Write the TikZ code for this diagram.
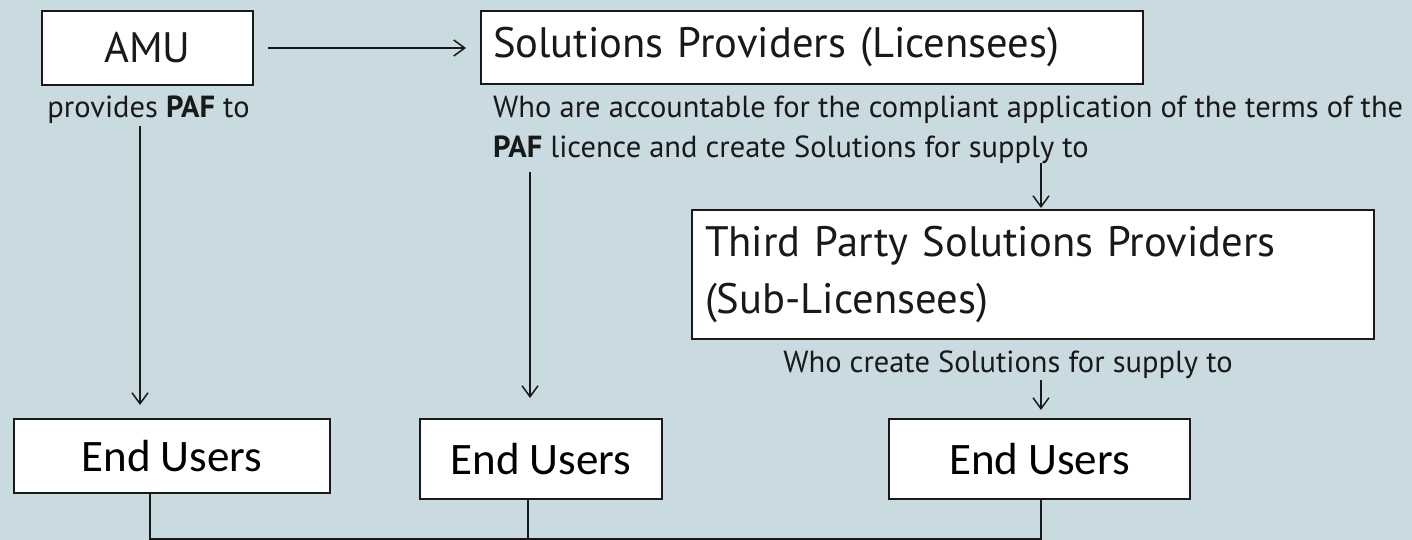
\documentclass[tikz,border=0pt]{standalone}
\usepackage{fontspec}
\setmainfont{PT Sans}
\newfontfamily\eufont{Carlito}
\usetikzlibrary{arrows.meta}
\definecolor{bgcol}{RGB}{201,219,224}
\definecolor{ink}{RGB}{25,25,25}
\tikzset{
  box/.style={draw=ink, line width=2pt, fill=white, inner sep=0pt, outer sep=0pt},
  bigtxt/.style={font=\fontsize{42.6}{51}\selectfont, text=ink},
  eutxt/.style={font=\eufont\fontsize{45}{54}\selectfont, text=black},
  smalltxt/.style={font=\fontsize{30.5}{40}\selectfont, text=ink, inner sep=0pt},
  conn/.style={draw=ink, line width=1.5pt},
  arr/.style={conn, -{Straight Barb[length=11pt,width=16pt,line width=1.5pt]}},
}
\begin{document}
\begin{tikzpicture}[x=1pt,y=-1pt]
\useasboundingbox (0,0) rectangle (1412,540);
\fill[bgcol] (0,0) rectangle (1412,540);

% boxes
\node[box, bigtxt, minimum width=211pt, minimum height=74pt] (amu) at (147.5,48) {AMU};
\node[box, bigtxt, minimum width=662pt, minimum height=73pt, text width=638pt, inner xsep=12pt, align=left] (sp) at (812,47.5) {Solutions Providers (Licensees)};
\node[box, bigtxt, minimum width=682pt, minimum height=129pt, text width=656pt, inner xsep=13pt, align=left,
      font=\fontsize{42.6}{57}\selectfont] (tp) at (1033,274.5) {Third Party Solutions Providers\\(Sub-Licensees)};
\node[box, eutxt, minimum width=316pt, minimum height=74pt] (eu1) at (172,456) {End Users};
\node[box, eutxt, minimum width=242pt, minimum height=80pt] (eu2) at (541,459) {End Users};
\node[box, eutxt, minimum width=301pt, minimum height=80pt] (eu3) at (1039.5,459) {End Users};

% labels
\node[smalltxt, anchor=base] (prov) at (148.5,118) {provides \textbf{PAF} to};
\node[smalltxt, anchor=base west] (whoA) at (493,118) {Who are accountable for the compliant application of the terms of the};
\node[smalltxt, anchor=base west] (whoB) at (493,158) {\textbf{PAF} licence and create Solutions for supply to};
\node[smalltxt, anchor=base] (whoC) at (1008,372) {Who create Solutions for supply to};

% connector end points
\coordinate (p1s) at (140,126);
\coordinate (p1e) at (140,405);
\coordinate (p2s) at (530,172);
\coordinate (p2e) at (530,398);
\coordinate (p3s) at (1041,163);
\coordinate (p3e) at (1041,208);
\coordinate (p4s) at (1041,380);
\coordinate (p4e) at (1041,410);
\coordinate (bl) at (150,539);
\coordinate (bm) at (528,539);
\coordinate (br) at (1041,539);

% arrows
\draw[arr] ([xshift=15pt]amu.east) -- ([xshift=-15pt]amu.east -| sp.west);
\draw[arr] (p1s) -- (p1e);
\draw[arr] (p2s) -- (p2e);
\draw[arr] (p3s) -- (p3e);
\draw[arr] (p4s) -- (p4e);

% bottom connectors
\draw[conn] (eu1.south -| bl) -- (bl) -- (br) -- (eu3.south -| br);
\draw[conn] (eu2.south -| bm) -- (bm);
\end{tikzpicture}
\end{document}
